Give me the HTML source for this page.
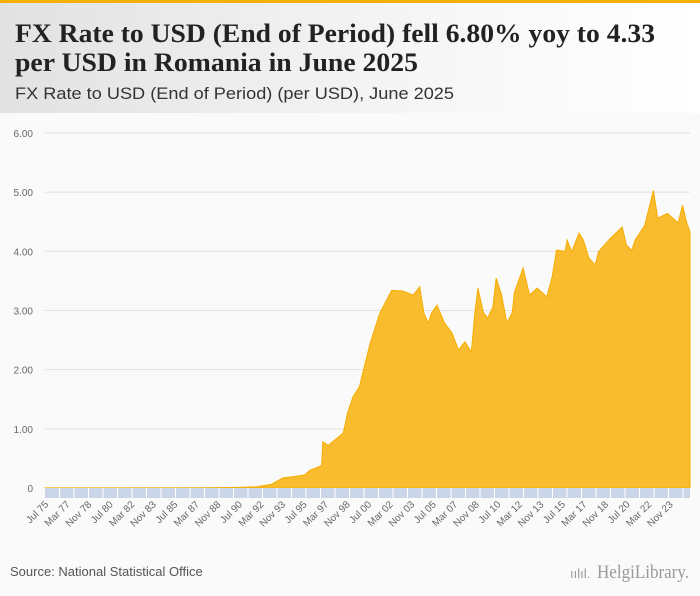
<!DOCTYPE html>
<html><head><meta charset="utf-8"><style>
html,body{margin:0;padding:0;width:700px;height:596px;overflow:hidden;background:#fafafa}
svg{display:block}
</style></head><body>
<svg id="chart" width="700" height="596" xmlns="http://www.w3.org/2000/svg">
<defs><linearGradient id="hg" x1="0" x2="1"><stop offset="0" stop-color="#e2e2e2"/><stop offset="0.6" stop-color="#f6f6f6"/><stop offset="1" stop-color="#ffffff"/></linearGradient></defs>
<rect x="0" y="0" width="700" height="113" fill="url(#hg)"/>
<rect x="0" y="0" width="700" height="3" fill="#f5b000"/>
<text x="15" y="42" font-family="'Liberation Serif',serif" font-weight="bold" font-size="26" fill="#222" textLength="640" lengthAdjust="spacingAndGlyphs">FX Rate to USD (End of Period) fell 6.80% yoy to 4.33</text>
<text x="15" y="71" font-family="'Liberation Serif',serif" font-weight="bold" font-size="26" fill="#222" textLength="403" lengthAdjust="spacingAndGlyphs">per USD in Romania in June 2025</text>
<text x="15" y="99" font-family="'Liberation Sans',sans-serif" font-size="17" fill="#333" textLength="439" lengthAdjust="spacingAndGlyphs">FX Rate to USD (End of Period) (per USD), June 2025</text>
<g id="grid"></g><g id="area"></g><g id="xaxis"></g>
<text x="10" y="576" font-family="'Liberation Sans',sans-serif" font-size="13" fill="#555">Source: National Statistical Office</text>
<g>
<text x="570" y="578" font-family="'Liberation Sans',sans-serif" font-size="13" fill="#999">ıılıl.</text>
<text x="597" y="578" font-family="'Liberation Serif',serif" font-size="19" fill="#999" textLength="92" lengthAdjust="spacingAndGlyphs">HelgiLibrary.</text>
</g>
</svg>
<script>
const months=[0,150,180,197,210,221,230,241,246,253,257,258,263,277,281,286,292,302,311,322,332,342,348,352,356,359,364,371,378,384,390,396,399,402,407,411,416,419,424,429,434,436,444,450,457,466,471,475,483,485,489,496,500,505,511,514,525,536,540,545,548,557,565,569,578,588,592,596,599];
const values=[0.002,0.003,0.01,0.02,0.06,0.17,0.19,0.22,0.30,0.35,0.38,0.78,0.72,0.93,1.27,1.54,1.71,2.45,2.96,3.34,3.33,3.26,3.40,2.95,2.79,2.96,3.09,2.79,2.62,2.33,2.47,2.30,2.92,3.38,2.97,2.87,3.06,3.55,3.26,2.79,2.97,3.31,3.72,3.26,3.38,3.23,3.57,4.02,4.0,4.19,3.99,4.31,4.19,3.89,3.77,3.99,4.22,4.41,4.10,4.02,4.19,4.44,5.03,4.56,4.64,4.48,4.78,4.48,4.33];
const yTicks=[0,1,2,3,4,5,6];
const yTickLabels=["0","1.00","2.00","3.00","4.00","5.00","6.00"];
const mon=["Jan","Feb","Mar","Apr","May","Jun","Jul","Aug","Sep","Oct","Nov","Dec"];
const NS="http://www.w3.org/2000/svg";
const X0=45,X1=690,Y0=488,Y6=133,NM=600;
const xs=m=>X0+m*(X1-X0)/(NM-1);
const ys=v=>Y0-v*(Y0-Y6)/6;
function mk(t,a,p){const e=document.createElementNS(NS,t);for(const k in a)e.setAttribute(k,a[k]);p.appendChild(e);return e;}
const grid=document.getElementById('grid');
yTicks.forEach((v,i)=>{
 if(v>0){const l=mk('line',{x1:X0,x2:X1,y1:ys(v),y2:ys(v),stroke:'#e2e2e2','stroke-width':1},grid);
 
 }
 const t=mk('text',{x:33,y:ys(v)+4,'text-anchor':'end','font-family':"'Liberation Sans',sans-serif",'font-size':10,fill:'#666'},grid);
 t.textContent=yTickLabels[i];
 
 
});
const area=document.getElementById('area');
let d='M'+xs(months[0])+','+Y0;
months.forEach((m,i)=>{d+=' L'+xs(m).toFixed(1)+','+ys(values[i]).toFixed(1);});
d+=' L'+xs(months[months.length-1])+','+Y0+' Z';
const p=mk('path',{d:d,fill:'#f9bc2e',stroke:'#f5ad00','stroke-width':1},area);


const xa=document.getElementById('xaxis');
const band=mk('rect',{x:X0,y:Y0,width:X1-X0,height:10,fill:'#cbd5e8'},xa);


for(let x=X0+14.5;x<X1;x+=14.5){mk('line',{x1:x,x2:x,y1:Y0,y2:Y0+10,stroke:'#fff','stroke-width':1},xa);}
for(let m=0;m<NM;m+=20){
 const mi=(6+m)%12, yr=(75+Math.floor((6+m)/12))%100;
 const x=xs(m)+4, y=Y0+17;
 const t=mk('text',{x:x,y:y,'text-anchor':'end','font-family':"'Liberation Sans',sans-serif",'font-size':10,fill:'#666',transform:'rotate(-45 '+x+' '+y+')'},xa);
 t.textContent=mon[mi]+' '+String(yr).padStart(2,'0');
 
 
}
</script>
</body></html>
